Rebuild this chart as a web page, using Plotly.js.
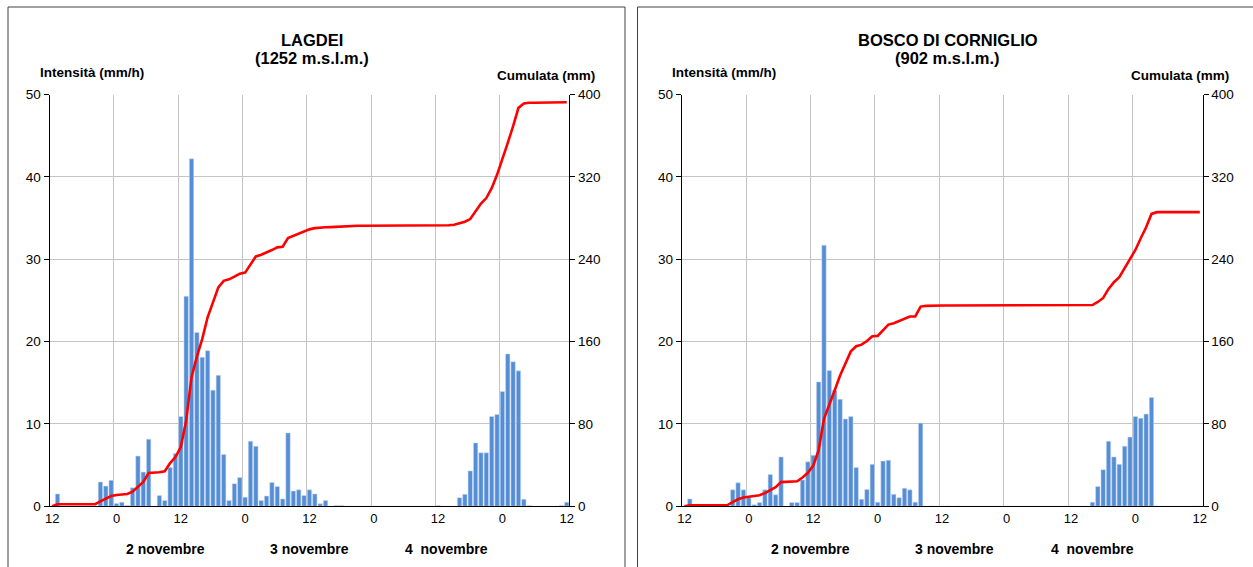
<!DOCTYPE html>
<html>
<head>
<meta charset="utf-8">
<script src="https://cdn.plot.ly/plotly-3.0.1.min.js"></script>
<style>
  html, body { margin: 0; padding: 0; background: #ffffff; }
  #chart { width: 1253px; height: 567px; }
</style>
</head>
<body>
<div id="chart"></div>
<script>
// Hourly rain: from 12:00 on 1 November to 12:00 on 5 November (97 hourly steps)
const hours = Array.from({length: 97}, (_, i) => i);
const hourTickVals = [0, 12, 24, 36, 48, 60, 72, 84, 96];
const hourTickText = ['12', '0', '12', '0', '12', '0', '12', '0', '12'];
const dayLabels = ['2 novembre', '3 novembre', '4  novembre'];

// LAGDEI (1252 m s.l.m.) - intensity (mm/h)
const lagdeiIntensity = [
  0, 1.5, 0, 0, 0, 0, 0, 0, 0, 2.95,
  2.45, 3.15, 0.35, 0.5, 0.1, 2.25, 6.1, 4.15, 8.15, 0,
  1.3, 0.7, 4.7, 6.4, 10.9, 25.5, 42.2, 21.1, 18.1, 18.9,
  14.1, 15.9, 6.3, 0.7, 2.75, 3.5, 1.1, 7.9, 7.3, 0.7,
  1.25, 2.9, 2.4, 0.9, 8.9, 1.85, 2.0, 1.3, 2.0, 1.5,
  0.3, 0.7, 0, 0.1, 0.1, 0, 0, 0, 0, 0,
  0, 0, 0, 0, 0, 0, 0, 0, 0, 0,
  0, 0, 0.1, 0, 0, 0, 1.05, 1.45, 4.3, 7.7,
  6.5, 6.5, 10.9, 11.15, 13.95, 18.5, 17.55, 16.45, 0.85, 0.1,
  0, 0, 0, 0, 0, 0.1, 0.5
];
// LAGDEI - cumulated rain (mm)
const lagdeiCumulata = [
  0, 2, 2, 2, 2, 2, 2, 2, 2, 4.8,
  7.4, 10, 11, 11.2, 12, 14.2, 18.7, 23.6, 32.3, 32.6,
  33, 34, 42, 47.8, 57.5, 83.4, 125.4, 145.4, 162.6, 183.6,
  198, 212.7, 219, 220.5, 223, 226, 227, 235.3, 242.7, 244.3,
  246.3, 248.9, 251.5, 252.1, 260.5, 262.8, 265, 267, 269, 270.2,
  270.8, 271, 271.2, 271.5, 271.8, 272.5, 272.5, 272.5, 272.5, 272.5,
  272.5, 272.5, 272.5, 272.5, 272.5, 272.5, 272.5, 272.5, 272.5, 272.5,
  272.5, 272.5, 272.5, 273, 273, 273.5, 275, 276.4, 279, 286.8,
  294, 299.4, 309, 322, 336.7, 353, 369.2, 387, 391.2, 392,
  392, 392, 392, 392, 392, 392, 392.5
];

// BOSCO DI CORNIGLIO (902 m s.l.m.) - intensity (mm/h)
const boscoIntensity = [
  0, 0.9, 0, 0, 0, 0, 0, 0, 0, 2.0,
  2.85, 2.0, 1.05, 0.2, 0.45, 2.0, 3.85, 1.4, 6.0, 0,
  0.45, 0.45, 3.2, 5.4, 6.2, 15.1, 31.7, 16.5, 14.1, 13.0,
  10.6, 10.9, 4.7, 0.85, 2.05, 5.1, 0.5, 5.5, 5.6, 1.45,
  1.05, 2.2, 2.0, 0.5, 10.1, 0, 0.05, 0, 0.05, 0.05,
  0, 0.05, 0, 0, 0, 0, 0, 0, 0, 0,
  0, 0, 0, 0, 0, 0, 0, 0, 0, 0,
  0, 0, 0, 0, 0, 0, 0.5, 2.4, 4.45, 7.9,
  6.0, 5.1, 7.3, 8.4, 10.9, 10.7, 11.2, 13.2, 0.05, 0,
  0, 0, 0, 0, 0, 0.05, 0.05
];
// BOSCO DI CORNIGLIO - cumulated rain (mm)
const boscoCumulata = [
  0, 1, 1, 1, 1, 1, 1, 1, 1.2, 4,
  6.8, 8.5, 9.3, 9.8, 10.8, 12.8, 15.8, 18.5, 23.5, 23.6,
  23.7, 24.3, 28, 32.5, 39.5, 54.4, 85, 98, 112.7, 127,
  139, 150.5, 155.5, 157, 160.5, 165.2, 165.5, 170.7, 176.5, 177.8,
  179.8, 182, 184.3, 184.5, 194, 194.7, 195, 195, 195, 195,
  195, 195, 195, 195, 195, 195, 195, 195, 195, 195,
  195, 195, 195, 195, 195, 195, 195, 195, 195, 195,
  195, 195, 195, 195, 195, 195, 195.5, 198.5, 202.4, 211.2,
  217.7, 222.5, 231.6, 240, 249, 260.4, 271.1, 284, 285.7, 285.7,
  285.7, 285.7, 285.7, 285.7, 285.7, 285.7, 285.7
];

const W = 1253, H = 567;
const px = x => x / W;
const py = y => 1 - y / H;

const FONT = 'Liberation Sans, Arial, sans-serif';
const BAR_COLOR = '#558ED5';
const LINE_COLOR = '#FF0000';
const GRID = '#C4C4C4';

function barTrace(y, xa, ya) {
  return {
    type: 'bar', x: hours, y: y, xaxis: xa, yaxis: ya,
    marker: {color: BAR_COLOR, line: {color: 'rgba(205,222,245,0.9)', width: 0.6}},
    hoverinfo: 'skip', showlegend: false
  };
}
function lineTrace(y, xa, ya) {
  return {
    type: 'scatter', mode: 'lines', x: hours, y: y, xaxis: xa, yaxis: ya,
    line: {color: LINE_COLOR, width: 2.6},
    hoverinfo: 'skip', showlegend: false
  };
}

// Vertical grid lines fall between hourly columns (at each 12-hour boundary)
const boundaryGrid = [];
for (let k = 1; k < 8; k++) boundaryGrid.push(12 * k - 0.5);

function xAxis(domain, anchor) {
  return {
    domain: domain, anchor: anchor, range: [-0.5, 96.5],
    tickmode: 'array', tickvals: hourTickVals, ticktext: hourTickText,
    showgrid: false, zeroline: false,
    showline: true, linecolor: '#000', linewidth: 1,
    ticks: '', tickfont: {family: FONT, size: 13, color: '#000'},
    minor: {tickmode: 'array', tickvals: boundaryGrid, showgrid: true,
            gridcolor: GRID, gridwidth: 1, ticks: ''},
    fixedrange: true
  };
}
function yLeft(anchor) {
  return {
    domain: [py(506.3), py(94.5)], anchor: anchor, range: [0, 50],
    tickmode: 'linear', tick0: 0, dtick: 10,
    showgrid: true, gridcolor: GRID, gridwidth: 1, zeroline: false,
    showline: true, linecolor: '#000', linewidth: 1,
    ticks: 'outside', ticklen: 5, tickcolor: '#000',
    tickfont: {family: FONT, size: 13.5, color: '#000'},
    fixedrange: true
  };
}
function yRight(anchor, over) {
  return {
    domain: [py(506.3), py(94.5)], anchor: anchor, overlaying: over, side: 'right',
    range: [0, 400], tickmode: 'linear', tick0: 0, dtick: 80,
    showgrid: false, zeroline: false,
    showline: true, linecolor: '#000', linewidth: 1,
    ticks: 'outside', ticklen: 5, tickcolor: '#000',
    tickfont: {family: FONT, size: 13.5, color: '#000'},
    fixedrange: true
  };
}

function text(t, x, y, size, opts) {
  return Object.assign({
    text: t, x: px(x), y: py(y), xref: 'paper', yref: 'paper',
    xanchor: 'center', yanchor: 'middle', showarrow: false,
    font: {family: FONT, size: size, color: '#000'}
  }, opts || {});
}

const annotations = [
  text('<b>LAGDEI</b>', 312, 40, 16.5),
  text('<b>(1252 m.s.l.m.)</b>', 312, 58, 16.5),
  text('<b>Intensità (mm/h)</b>', 92, 72, 13.5),
  text('<b>Cumulata (mm)</b>', 546, 75, 13.5),
  text('<b>' + dayLabels[0] + '</b>', 165, 549, 14),
  text('<b>' + dayLabels[1] + '</b>', 309, 549, 14),
  text('<b>' + dayLabels[2] + '</b>', 446, 549, 14),

  text('<b>BOSCO DI CORNIGLIO</b>', 948, 40, 16.5),
  text('<b>(902 m.s.l.m.)</b>', 948, 58, 16.5),
  text('<b>Intensità (mm/h)</b>', 724, 72, 13.5),
  text('<b>Cumulata (mm)</b>', 1180, 75, 13.5),
  text('<b>' + dayLabels[0] + '</b>', 810, 549, 14),
  text('<b>' + dayLabels[1] + '</b>', 954, 549, 14),
  text('<b>' + dayLabels[2] + '</b>', 1092, 549, 14)
];

// Frames around the two panels
const shapes = [
  {type: 'rect', xref: 'paper', yref: 'paper', x0: px(8), x1: px(625), y0: -0.2, y1: py(7),
   line: {color: '#404040', width: 1}, fillcolor: 'rgba(0,0,0,0)', layer: 'below'},
  {type: 'rect', xref: 'paper', yref: 'paper', x0: px(637.5), x1: 1.05, y0: -0.2, y1: py(7),
   line: {color: '#404040', width: 1}, fillcolor: 'rgba(0,0,0,0)', layer: 'below'}
];

const data = [
  barTrace(lagdeiIntensity, 'x', 'y'),
  lineTrace(lagdeiCumulata, 'x', 'y2'),
  barTrace(boscoIntensity, 'x2', 'y3'),
  lineTrace(boscoCumulata, 'x2', 'y4')
];

const layout = {
  width: W, height: H,
  margin: {l: 0, r: 0, t: 0, b: 0},
  paper_bgcolor: '#ffffff', plot_bgcolor: 'rgba(0,0,0,0)',
  bargap: 0.18,
  showlegend: false,
  xaxis: xAxis([px(49.5), px(569.4)], 'y'),
  yaxis: yLeft('x'),
  yaxis2: yRight('x', 'y'),
  xaxis2: xAxis([px(681.7), px(1202.5)], 'y3'),
  yaxis3: yLeft('x2'),
  yaxis4: yRight('x2', 'y3'),
  annotations: annotations,
  shapes: shapes,
  hovermode: false
};

Plotly.newPlot('chart', data, layout, {displayModeBar: false, staticPlot: true});
</script>
</body>
</html>
